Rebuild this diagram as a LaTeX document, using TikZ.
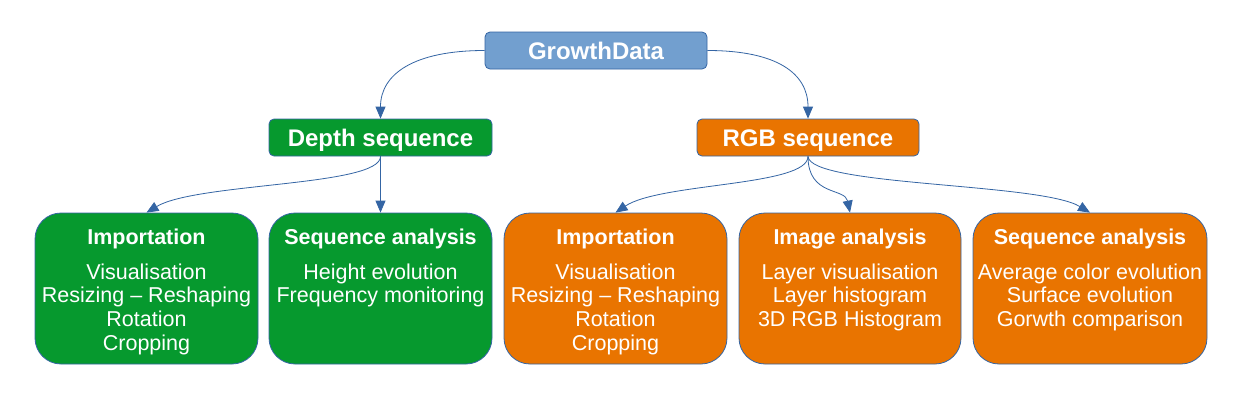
\documentclass[tikz,border=0pt]{standalone}
\usepackage{fontspec}
\setmainfont{Liberation Sans}
\usetikzlibrary{arrows.meta}
\definecolor{bfill}{HTML}{729FCF}
\definecolor{bline}{HTML}{3465A4}
\definecolor{gfill}{HTML}{06992E}
\definecolor{ofill}{HTML}{E97400}
\tikzset{
  topbox/.style={draw=bline, line width=0.8pt, rounded corners=5pt, minimum height=37pt, inner sep=0pt, text height=17pt, text depth=0pt, text=white, font=\fontsize{24}{28}\selectfont\bfseries},
  lowbox/.style={draw=bline, line width=0.8pt, rounded corners=26pt, minimum height=151pt, inner sep=0pt},
  head/.style={text=white, inner sep=0pt, font=\fontsize{21.5}{24}\selectfont\bfseries},
  body/.style={text=white, inner sep=0pt, align=center, anchor=north, font=\fontsize{21.5}{23.7}\selectfont},
  conn/.style={draw=bline, line width=0.8pt, -{Triangle[length=12pt,width=10pt]}}
}
\begin{document}
\begin{tikzpicture}[x=1pt,y=-1pt]
\useasboundingbox[fill=white] (0,0) rectangle (1242,400);
% top level
\node[topbox, fill=bfill, minimum width=222pt] (gd) at (596,50.5) {GrowthData};
\node[topbox, fill=gfill, minimum width=223pt] (ds) at (380.5,137.5) {Depth sequence};
\node[topbox, fill=ofill, minimum width=222pt] (rs) at (808,137.5) {RGB sequence};
% lower boxes
\node[lowbox, fill=gfill, minimum width=223pt] (gi) at (146.5,288.5) {};
\node[lowbox, fill=gfill, minimum width=223pt] (gs) at (380.5,288.5) {};
\node[lowbox, fill=ofill, minimum width=223pt] (oi) at (615.5,288.5) {};
\node[lowbox, fill=ofill, minimum width=222pt] (oa) at (850,288.5) {};
\node[lowbox, fill=ofill, minimum width=234pt] (os) at (1090,288.5) {};
% texts
\node[head] (gih) at (146.5,239) {Importation};
\node[body] (gib) at (146.5,263.5) {Visualisation\\Resizing – Reshaping\\Rotation\\Cropping};
\node[head] (gsh) at (380.5,239) {Sequence analysis};
\node[body] (gsb) at (380.5,263.5) {Height evolution\\Frequency monitoring};
\node[head] (oih) at (615.5,239) {Importation};
\node[body] (oib) at (615.5,263.5) {Visualisation\\Resizing – Reshaping\\Rotation\\Cropping};
\node[head] (oah) at (850,239) {Image analysis};
\node[body] (oab) at (850,263.5) {Layer visualisation\\Layer histogram\\3D RGB Histogram};
\node[head] (osh) at (1090,239) {Sequence analysis};
\node[body] (osb) at (1090,263.5) {Average color evolution\\Surface evolution\\Gorwth comparison};
% connectors
\draw[conn] (gd.west) .. controls +(-70,0) and +(0,-45) .. (ds.north);
\draw[conn] (gd.east) .. controls +(70,0) and +(0,-45) .. (rs.north);
\draw[conn] (ds.south) .. controls +(0,30) and +(50,-30) .. (gi.north);
\draw[conn] (ds.south) -- (gs.north);
\draw[conn] (rs.south) .. controls +(0,30) and +(45,-30) .. (oi.north);
\draw[conn] (rs.south) .. controls +(0,40) and +(-5,-25) .. (oa.north);
\draw[conn] (rs.south) .. controls +(2,30) and +(-50,-30) .. (os.north);
\end{tikzpicture}
\end{document}
